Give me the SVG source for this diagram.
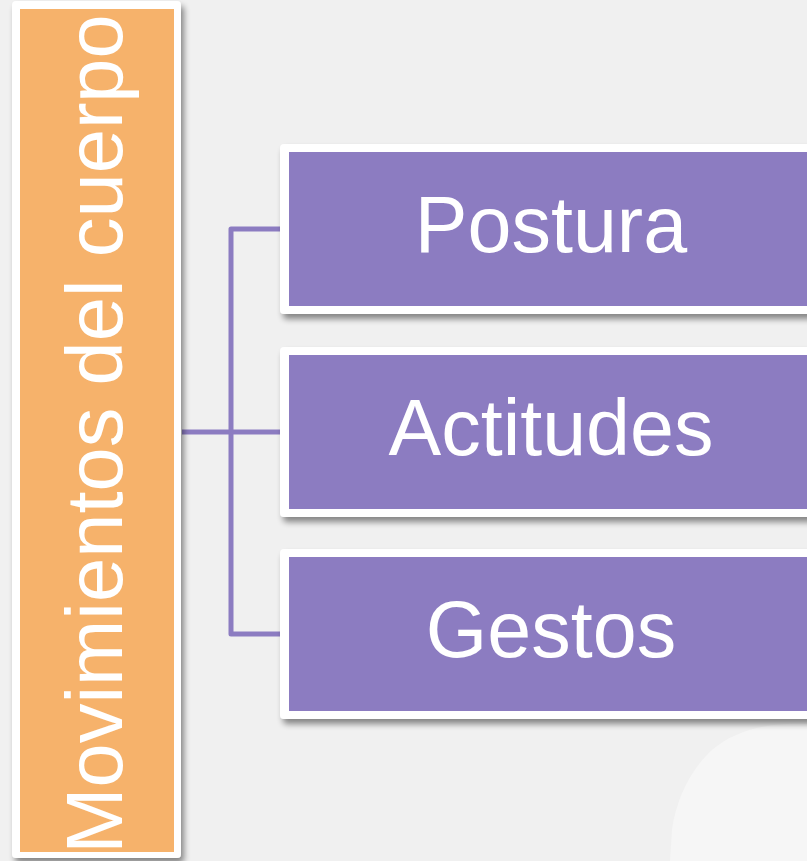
<svg xmlns="http://www.w3.org/2000/svg" width="807" height="861" viewBox="0 0 807 861">
<defs>
<style>
.frame{fill:#ffffff;}
.purple{fill:#8C7CC1;}
.orange{fill:#F6B26B;}
.lbl{font-family:"Liberation Sans",Arial,sans-serif;fill:#ffffff;text-anchor:middle;}
.conn{fill:none;stroke:#8C7CC1;stroke-width:5;stroke-linejoin:round;}
</style>
<filter id="sh" x="-10%" y="-10%" width="130%" height="130%">
<feGaussianBlur in="SourceAlpha" stdDeviation="3"/>
<feOffset dx="3" dy="5" result="b"/>
<feComponentTransfer><feFuncA type="linear" slope="0.45"/></feComponentTransfer>
<feMerge><feMergeNode/><feMergeNode in="SourceGraphic"/></feMerge>
</filter>
</defs>
<rect x="0" y="0" width="807" height="861" fill="#F0F0F0"/>
<path d="M807 724 C770 722 735 730 712 750 C690 770 676 800 672 830 L670 861 L807 861 Z" fill="#F6F6F6"/>
<g id="connectors">
<path class="conn" d="M281 229 H231 V634 H281"/>
<path class="conn" d="M182 432 H281"/>
</g>
<g id="root">
<rect class="frame" x="12" y="1" width="169" height="857" rx="4" filter="url(#sh)"/>
<rect class="orange" x="20" y="9" width="154" height="843"/>
<text class="lbl" font-size="79.5" transform="translate(122,434) rotate(-90)">Movimientos del cuerpo</text>
</g>
<g id="postura">
<rect class="frame" x="280" y="144" width="560" height="170" rx="4" filter="url(#sh)"/>
<rect class="purple" x="289" y="152" width="540" height="154"/>
<text class="lbl" x="551" y="252" font-size="79">Postura</text>
</g>
<g id="actitudes">
<rect class="frame" x="280" y="347" width="560" height="170" rx="4" filter="url(#sh)"/>
<rect class="purple" x="289" y="355" width="540" height="154"/>
<text class="lbl" x="551" y="455" font-size="79">Actitudes</text>
</g>
<g id="gestos">
<rect class="frame" x="280" y="549" width="560" height="170" rx="4" filter="url(#sh)"/>
<rect class="purple" x="289" y="557" width="540" height="154"/>
<text class="lbl" x="551" y="657" font-size="79">Gestos</text>
</g>
</svg>
